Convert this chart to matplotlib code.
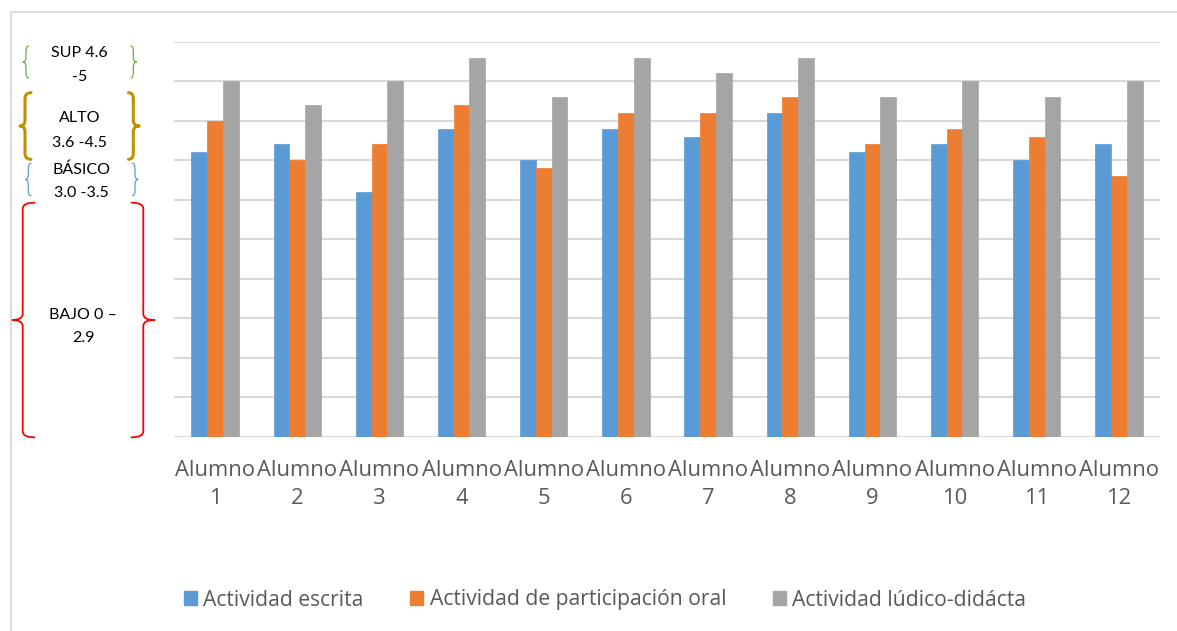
import matplotlib
matplotlib.use("Agg")
import matplotlib.pyplot as plt
import numpy as np
from matplotlib.path import Path
from matplotlib.patches import PathPatch, Patch

plt.rcParams['font.family'] = ['Lato', 'DejaVu Sans']

categories = [f"Alumno\n{i}" for i in range(1, 13)]
series_names = ["Actividad escrita", "Actividad de participación oral", "Actividad lúdico-didácta"]
escrita = [3.6, 3.7, 3.1, 3.9, 3.5, 3.9, 3.8, 4.1, 3.6, 3.7, 3.5, 3.7]
oral = [4.0, 3.5, 3.7, 4.2, 3.4, 4.1, 4.1, 4.3, 3.7, 3.9, 3.8, 3.3]
ludico = [4.5, 4.2, 4.5, 4.8, 4.3, 4.8, 4.6, 4.8, 4.3, 4.5, 4.3, 4.5]
colors = ["#5B9BD5", "#ED7D31", "#A5A5A5"]

W, H = 1177, 631
fig = plt.figure(figsize=(W / 100, H / 100), dpi=100)

# main axes
ax = fig.add_axes([174 / W, (H - 436.7) / H, (1160 - 174) / W, (436.7 - 41.7) / H])
x = np.arange(len(categories))
bw = 0.192
for k, (vals, c) in enumerate(zip([escrita, oral, ludico], colors)):
    ax.bar(x + (k - 1) * bw, vals, width=bw, color=c, edgecolor=c, linewidth=0.5, zorder=3)
ax.set_xlim(-0.5, len(categories) - 0.5)
ax.set_ylim(0, 5)
ax.set_yticks(np.arange(0, 5.01, 0.5))
ax.yaxis.grid(True, color="#D9D9D9", linewidth=1.5, zorder=0)
ax.set_yticklabels([])
ax.tick_params(axis='y', length=0)
for s in ax.spines.values():
    s.set_visible(False)
ax.set_xticks(x)
ax.set_xticklabels(categories, fontsize=15.8, color="#595959", linespacing=1.45,
                   family=['Open Sans', 'DejaVu Sans'])
ax.tick_params(axis='x', length=0, pad=16.5)

# legend
handles = [Patch(facecolor=c, edgecolor=c) for c in colors]
fig.legend(handles, series_names, loc="center", bbox_to_anchor=(605 / W, (H - 600) / H),
           ncol=3, frameon=False, handlelength=0.62, handleheight=0.62,
           handletextpad=0.3, columnspacing=2.2, labelcolor="#595959",
           prop={'family': ['Open Sans', 'DejaVu Sans'], 'size': 15.2})

# overlay for annotations in pixel coordinates
ov = fig.add_axes([0, 0, 1, 1], zorder=5)
ov.set_xlim(0, W)
ov.set_ylim(H, 0)
ov.axis('off')
ov.patch.set_alpha(0)

# chart border
ov.plot([10.5, 10.5, W], [H, 12, 12], color="#D9D9D9", lw=1.3)


def brace(x_spine, tip, end, y0, y1, color, lw):
    """Vertical curly brace. tip: x of the mid point, end: x of curled ends."""
    ym = (y0 + y1) / 2
    r = min(6, (y1 - y0) / 6)
    verts = [
        (end, y0),
        (x_spine, y0), (x_spine, y0 + r),
        (x_spine, ym - r),
        (x_spine, ym), (tip, ym),
        (x_spine, ym), (x_spine, ym + r),
        (x_spine, y1 - r),
        (x_spine, y1), (end, y1),
    ]
    codes = [Path.MOVETO, Path.CURVE3, Path.CURVE3, Path.LINETO, Path.CURVE3, Path.CURVE3,
             Path.CURVE3, Path.CURVE3, Path.LINETO, Path.CURVE3, Path.CURVE3]
    ov.add_patch(PathPatch(Path(verts, codes), facecolor='none', edgecolor=color, lw=lw,
                           capstyle='round', joinstyle='round'))


levels = [
    # left spine, left tip, left end, right spine, right tip, right end, y0, y1, color, lw
    (26, 23, 28.5, 133.3, 136.5, 131, 46, 78, "#70AD47", 0.9),
    (25, 20, 31, 133.3, 139.3, 128.5, 92.7, 159.3, "#BF9000", 2.2),
    (28.3, 25.5, 31, 135, 138, 132.5, 163.3, 195.7, "#5B9BD5", 0.9),
    (22.7, 11.5, 34.5, 143.3, 154.5, 131.5, 202.7, 437.3, "#FF0000", 1.3),
]
for ls, lt, le, rs, rt, re, y0, y1, c, lw in levels:
    brace(ls, lt, le, y0, y1, c, lw)
    brace(rs, rt, re, y0, y1, c, lw)

labels = [
    ("SUP 4.6", 79.5, 53.3), ("-5", 80, 76.7),
    ("ALTO", 80, 118.3), ("3.6 -4.5", 79.5, 142.7),
    ("BÁSICO", 81.5, 169.3), ("3.0 -3.5", 81, 193.3),
    ("BAJO 0 –", 83.3, 315), ("2.9", 83.3, 338.3),
]
for t, tx, ty in labels:
    ov.text(tx, ty, t, ha="center", va="center", fontsize=11.5, color="#000000")

fig.savefig("out.png", dpi=100)
